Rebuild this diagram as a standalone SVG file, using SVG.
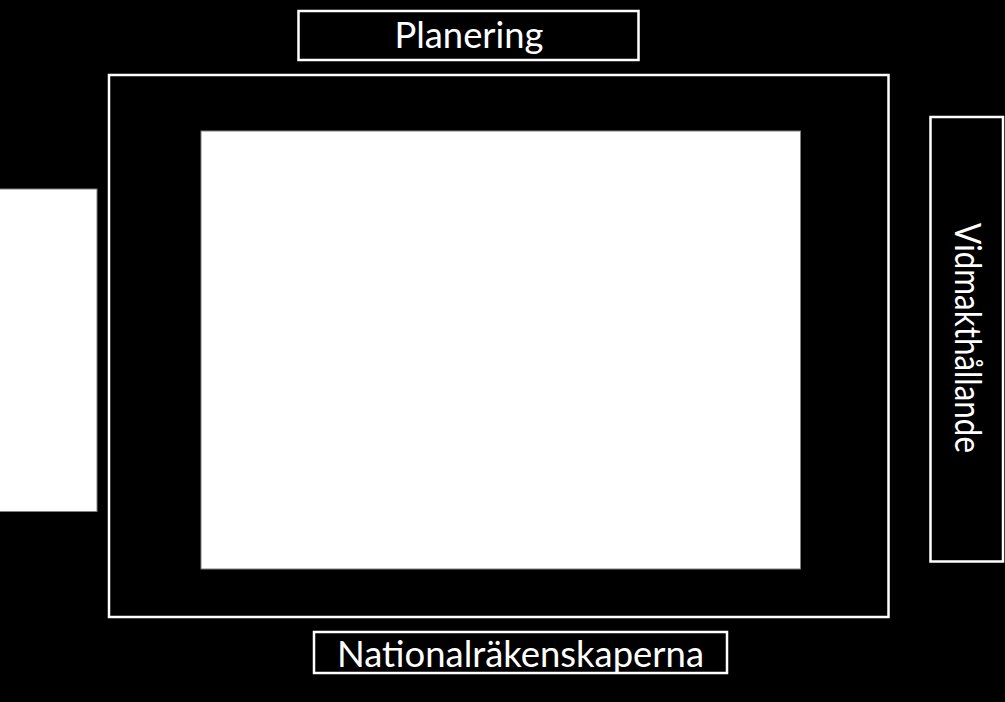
<svg xmlns="http://www.w3.org/2000/svg" width="1005" height="702" viewBox="0 0 1005 702">
<style>
.box{fill:#000;stroke:#fff;stroke-width:2.5}
.panel{fill:#fff;stroke:#808080;stroke-width:1}
.lbl{font-family:Lato,"Open Sans","Liberation Sans",sans-serif;font-size:36px;fill:#fff;text-anchor:middle}
</style>
<rect x="0" y="0" width="1005" height="702" fill="#000"/>
<g id="frame"><rect class="box" x="109" y="75" width="779.5" height="542"/></g>
<g id="center-panel"><rect class="panel" x="201" y="131" width="599.5" height="438"/></g>
<g id="left-panel"><rect class="panel" x="-2" y="189" width="99" height="322.5"/></g>
<g id="planering"><rect class="box" x="298.5" y="11" width="340" height="49"/><text class="lbl" x="469" y="48" textLength="149" lengthAdjust="spacingAndGlyphs">Planering</text></g>
<g id="nationalrakenskaperna"><rect class="box" x="314" y="632" width="413" height="41"/><text class="lbl" x="520.5" y="667" textLength="367" lengthAdjust="spacingAndGlyphs">Nationalräkenskaperna</text></g>
<g id="vidmakthallande"><rect class="box" x="930.5" y="117" width="72.5" height="444.5"/><text class="lbl" transform="translate(955,338) rotate(90)" x="0" y="0" textLength="230" lengthAdjust="spacingAndGlyphs">Vidmakthållande</text></g>
<g id="connectors"></g>
</svg>
